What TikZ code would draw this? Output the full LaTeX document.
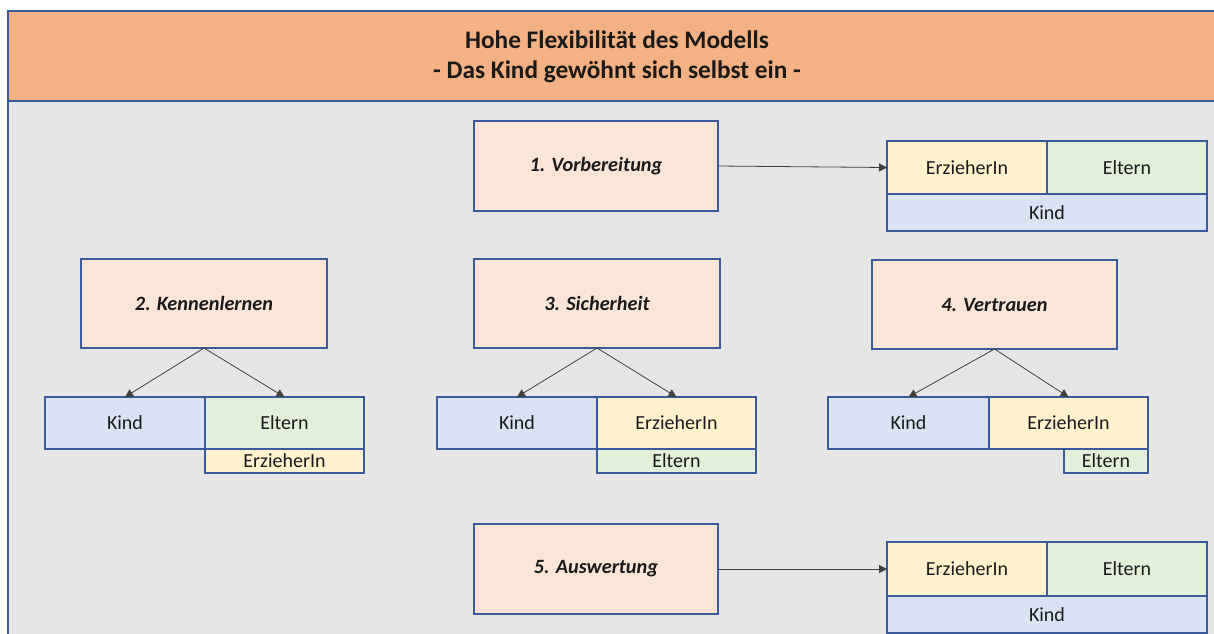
\documentclass[tikz,border=0pt]{standalone}
\usepackage{fontspec}
\setmainfont{Carlito}
\usetikzlibrary{arrows.meta}
\definecolor{bordc}{HTML}{3A5A9E}
\definecolor{headc}{HTML}{F4B183}
\definecolor{bgc}{HTML}{E6E6E6}
\definecolor{stepc}{HTML}{FBE5D6}
\definecolor{kindc}{HTML}{DAE3F3}
\definecolor{erzc}{HTML}{FFF2CC}
\definecolor{eltc}{HTML}{E2F0D9}
\definecolor{txtc}{HTML}{1A1A1A}
\definecolor{arrc}{HTML}{404040}
\tikzset{
  base/.style={draw=bordc, line width=1.3pt, inner sep=0pt, outer sep=0pt, text=txtc, anchor=center},
  stepbox/.style={base, fill=stepc, font=\fontsize{20.3}{23}\selectfont\bfseries\itshape},
  rolebox/.style={base, font=\fontsize{20}{22}\selectfont},
  kindbox/.style={rolebox, fill=kindc},
  erzbox/.style={rolebox, fill=erzc},
  eltbox/.style={rolebox, fill=eltc},
  conn/.style={draw=arrc, line width=0.8pt, -{Triangle[length=8pt,width=8pt]}},
}
\begin{document}
\begin{tikzpicture}[x=1pt,y=-1pt]
\useasboundingbox (0,0) rectangle (1214,633);
\clip (0,0) rectangle (1214,633);
\fill[white] (0,0) rectangle (1214,633);
% background panel
\draw[draw=bordc, line width=1.3pt, fill=bgc] (8,101) rectangle (1230,650);
% header
\draw[draw=bordc, line width=1.5pt, fill=headc] (8,11) rectangle (1230,101);
\node[font=\fontsize{25.3}{30}\selectfont\bfseries, text=txtc, align=center] (title) at (617,57)
  {Hohe Flexibilität des Modells\\- Das Kind gewöhnt sich selbst ein -};

% 1. Vorbereitung
\node[stepbox, minimum width=244pt, minimum height=90pt] (s1) at (596,166) {1. Vorbereitung};
\node[erzbox, minimum width=160pt, minimum height=53pt] (e1) at (967,167.5) {ErzieherIn};
\node[eltbox, minimum width=160pt, minimum height=53pt] (el1) at (1127,167.5) {Eltern};
\node[kindbox, minimum width=320pt, minimum height=37pt] (k1) at (1047,212.5) {Kind};
\draw[conn] (s1.east) -- (e1.west);

% 2. Kennenlernen
\node[stepbox, minimum width=246pt, minimum height=89pt] (s2) at (204,303.5) {2. Kennenlernen};
\node[kindbox, minimum width=160pt, minimum height=52pt] (k2) at (125,423) {Kind};
\node[eltbox, minimum width=159pt, minimum height=52pt] (el2) at (284.5,423) {Eltern};
\node[erzbox, minimum width=159pt, minimum height=24pt] (e2) at (284.5,461) {ErzieherIn};
\draw[conn] (s2.south) -- (k2.north);
\draw[conn] (s2.south) -- (el2.north);

% 3. Sicherheit
\node[stepbox, minimum width=246pt, minimum height=89pt] (s3) at (597,303.5) {3. Sicherheit};
\node[kindbox, minimum width=160pt, minimum height=52pt] (k3) at (517,423) {Kind};
\node[erzbox, minimum width=159pt, minimum height=52pt] (e3) at (676.5,423) {ErzieherIn};
\node[eltbox, minimum width=159pt, minimum height=24pt] (el3) at (676.5,461) {Eltern};
\draw[conn] (s3.south) -- (k3.north);
\draw[conn] (s3.south) -- (e3.north);

% 4. Vertrauen
\node[stepbox, minimum width=245pt, minimum height=89pt] (s4) at (994.5,304.5) {4. Vertrauen};
\node[kindbox, minimum width=161pt, minimum height=52pt] (k4) at (908.5,423) {Kind};
\node[erzbox, minimum width=159pt, minimum height=52pt] (e4) at (1068.5,423) {ErzieherIn};
\node[eltbox, minimum width=84pt, minimum height=24pt] (el4) at (1106,461) {Eltern};
\draw[conn] (s4.south) -- (k4.north);
\draw[conn] (s4.south) -- (e4.north);

% 5. Auswertung
\node[stepbox, minimum width=244pt, minimum height=90pt] (s5) at (596,569) {5. Auswertung};
\node[erzbox, minimum width=160pt, minimum height=54pt] (e5) at (967,569) {ErzieherIn};
\node[eltbox, minimum width=160pt, minimum height=54pt] (el5) at (1127,569) {Eltern};
\node[kindbox, minimum width=320pt, minimum height=37pt] (k5) at (1047,614.5) {Kind};
\draw[conn] (s5.east) -- (e5.west);
\end{tikzpicture}
\end{document}
